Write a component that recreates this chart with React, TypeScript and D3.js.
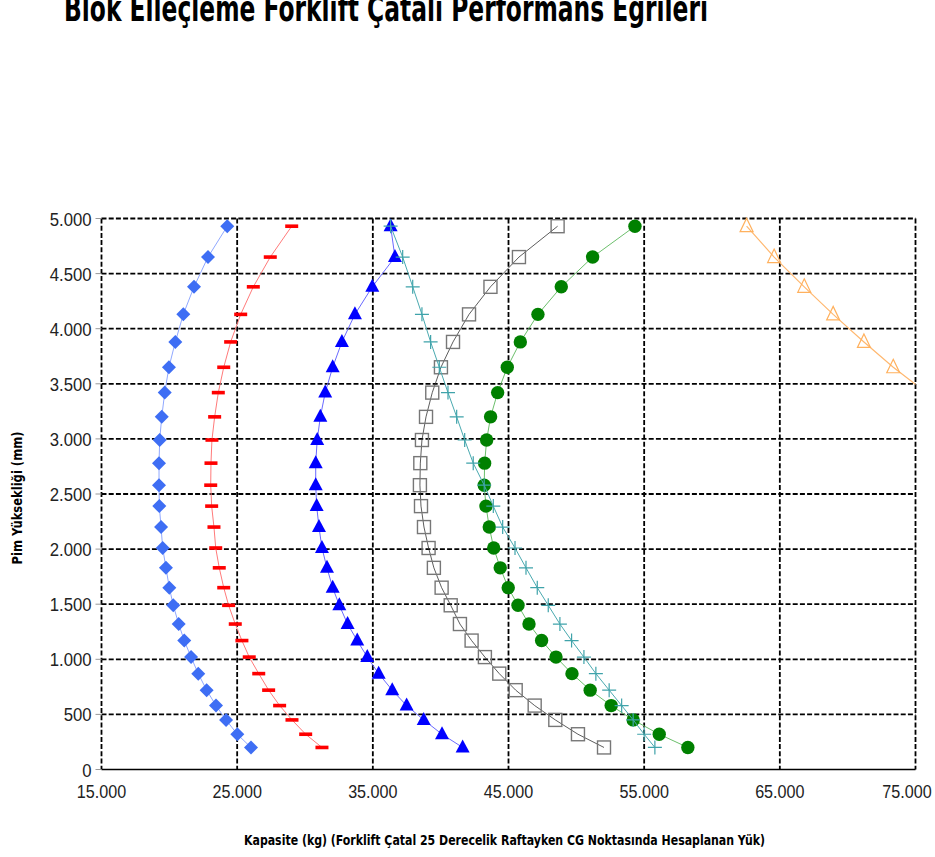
import React from "react";
import * as d3 from "d3";

const title = "Blok Elleçleme Forklift Çatalı Performans Eğrileri";
const xTitle = "Kapasite (kg) (Forklift Çatal 25 Derecelik Raftayken CG Noktasında Hesaplanan Yük)";
const yTitle = "Pim Yüksekliği (mm)";

const xTicks = [15000, 25000, 35000, 45000, 55000, 65000, 75000];
const yTicks = [0, 500, 1000, 1500, 2000, 2500, 3000, 3500, 4000, 4500, 5000];

const heights = [200, 320, 450, 580, 720, 870, 1020, 1170, 1320, 1490, 1650, 1830, 2010, 2200, 2390, 2580, 2780, 2990, 3200, 3420, 3650, 3880, 4130, 4380, 4650, 4930];

const diamondSeries = [26020, 25010, 24180, 23440, 22750, 22130, 21600, 21100, 20690, 20290, 20000, 19750, 19510, 19390, 19260, 19240, 19240, 19290, 19440, 19660, 19970, 20440, 21030, 21820, 22850, 24270];
const dashSeries = [31250, 30050, 29040, 28130, 27320, 26590, 25890, 25350, 24860, 24370, 24010, 23680, 23420, 23290, 23120, 23050, 23070, 23140, 23340, 23610, 24010, 24520, 25260, 26190, 27440, 29020];
const triangleSeries = [41620, 40100, 38750, 37490, 36430, 35430, 34590, 33850, 33140, 32530, 32040, 31620, 31250, 31030, 30860, 30790, 30790, 30900, 31130, 31490, 32040, 32720, 33680, 34960, 36630, 36310];
const squareSeries = [52040, 50120, 48450, 46930, 45530, 44320, 43260, 42280, 41420, 40740, 40070, 39500, 39110, 38770, 38550, 38470, 38500, 38620, 38920, 39380, 40020, 40910, 42090, 43670, 45770, 48620];
const circleSeries = [58220, 56110, 54190, 52570, 51020, 49680, 48500, 47440, 46510, 45700, 44980, 44390, 43910, 43580, 43340, 43210, 43240, 43390, 43680, 44200, 44910, 45870, 47170, 48890, 51200, 54320];
const crossSeries = [55790, 55000, 54190, 53340, 52420, 51440, 50560, 49650, 48790, 47930, 47120, 46290, 45480, 44570, 43880, 43210, 42400, 41770, 41180, 40540, 39900, 39260, 38620, 37940, 37200, 36310];
const openTriHeights = [3420, 3650, 3880, 4130, 4380, 4650, 4930];
const openTriSeries = [75800, 73360, 71200, 68930, 66800, 64580, 62550];

const fmt = (v: number) => d3.format(",")(v).replace(/,/g, ".");

const W = 935, H = 857;
const L = 101.5, R = 915.5, T = 218.5, B = 769.5;

type Marker = "diamond" | "dash" | "triangle" | "square" | "circle" | "cross" | "openTri";

const seriesList: { xs: number[]; ys: number[]; marker: Marker; color: string; line: string; lw: number }[] = [
  { xs: diamondSeries, ys: heights, marker: "diamond", color: "#3e6ef4", line: "#90a8ff", lw: 1 },
  { xs: dashSeries, ys: heights, marker: "dash", color: "#ff0000", line: "#ff7a7a", lw: 1 },
  { xs: triangleSeries, ys: heights, marker: "triangle", color: "#0000ff", line: "#6a6aff", lw: 1 },
  { xs: squareSeries, ys: heights, marker: "square", color: "#777777", line: "#333333", lw: 0.8 },
  { xs: circleSeries, ys: heights, marker: "circle", color: "#008000", line: "#6cbf6c", lw: 1 },
  { xs: crossSeries, ys: heights, marker: "cross", color: "#3fa3aa", line: "#4aaab0", lw: 1 },
  { xs: openTriSeries, ys: openTriHeights, marker: "openTri", color: "#ffb15e", line: "#ffb870", lw: 1.2 },
];

function MarkerShape({ m, x, y, c }: { m: Marker; x: number; y: number; c: string }) {
  switch (m) {
    case "diamond":
      return <path d={`M${x},${y - 7}L${x + 7},${y}L${x},${y + 7}L${x - 7},${y}Z`} fill={c} />;
    case "dash":
      return <rect x={x - 6.5} y={y - 1.8} width={13} height={3.6} fill={c} />;
    case "triangle":
      return <path d={`M${x},${y - 8}L${x + 7},${y + 5}L${x - 7},${y + 5}Z`} fill={c} />;
    case "square":
      return <rect x={x - 6.5} y={y - 6.5} width={13} height={13} fill="none" stroke={c} strokeWidth={1.4} />;
    case "circle":
      return <circle cx={x} cy={y} r={6.7} fill={c} />;
    case "cross":
      return <path d={`M${x - 7},${y}H${x + 7}M${x},${y - 7}V${y + 7}`} stroke={c} strokeWidth={1.2} fill="none" />;
    case "openTri":
      return <path d={`M${x},${y - 8}L${x + 6.5},${y + 5.5}L${x - 6.5},${y + 5.5}Z`} fill="none" stroke={c} strokeWidth={1.2} />;
  }
  return null;
}

export default function App() {
  const x = d3.scaleLinear().domain([15000, 75000]).range([L, R]);
  const y = d3.scaleLinear().domain([0, 5000]).range([B, T]);
  const line = d3.line<[number, number]>().x((d) => x(d[0])).y((d) => y(d[1]));
  const font = "'Liberation Sans', Arial, sans-serif";
  const condBold = "'Liberation Sans Narrow', 'DejaVu Sans Condensed', 'Roboto Condensed', 'Open Sans', sans-serif";
  const dash = "5,2.2";
  const labelHalf = 26;

  return (
    <svg width={W} height={H} style={{ position: "absolute", left: 0, top: 0, background: "#fff" }}>
      <rect x={0} y={0} width={W} height={H} fill="#fff" />
      <defs>
        <clipPath id="plot">
          <rect x={L} y={T - 10} width={R - L} height={B - T + 10} />
        </clipPath>
      </defs>
      <text x={64} y={21} fontFamily={condBold} fontWeight="bold" fontSize={35} textLength={644} lengthAdjust="spacingAndGlyphs" fill="#000">
        {title}
      </text>

      {/* gridlines */}
      {yTicks.filter((t) => t > 0).map((t) => (
        <line key={"h" + t} x1={L} x2={R} y1={y(t)} y2={y(t)} stroke="#000" strokeWidth={1.8} strokeDasharray={dash} />
      ))}
      {xTicks.map((t) => (
        <line key={"v" + t} x1={x(t)} x2={x(t)} y1={T} y2={B} stroke="#000" strokeWidth={1.8} strokeDasharray={dash} />
      ))}
      <line x1={L} x2={R} y1={B} y2={B} stroke="#000" strokeWidth={1.6} />

      {/* ticks */}
      {yTicks.map((t) => (
        <line key={"yt" + t} x1={L - 6} x2={L} y1={y(t)} y2={y(t)} stroke="#999" strokeWidth={1} />
      ))}
      {yTicks.map((t) => (
        <text key={"yl" + t} x={0} y={0} transform={`translate(${L - 10},${y(t) + 7}) scale(0.88,1)`} textAnchor="end" fontFamily={font} fontSize={19} fill="#222">
          {fmt(t)}
        </text>
      ))}
      {xTicks.map((t) => (
        <text key={"xl" + t} x={0} y={0} transform={`translate(${Math.min(x(t), W - 2 - labelHalf)},${798}) scale(0.85,1)`} textAnchor="middle" fontFamily={font} fontSize={19} fill="#222">
          {fmt(t)}
        </text>
      ))}

      {/* series */}
      <g clipPath="url(#plot)">
        {seriesList.map((s, i) => {
          const pts: [number, number][] = s.xs.map((v, j) => [v, s.ys[j]]);
          return (
            <g key={i}>
              <path d={line(pts) || ""} fill="none" stroke={s.line} strokeWidth={s.lw} />
              {pts.map((p, j) => (
                <MarkerShape key={j} m={s.marker} x={x(p[0])} y={y(p[1])} c={s.color} />
              ))}
            </g>
          );
        })}
      </g>

      <text x={0} y={0} transform={`translate(22,498) rotate(-90)`} textAnchor="middle" fontFamily={condBold} fontWeight="bold" fontSize={14} textLength={133} lengthAdjust="spacingAndGlyphs" fill="#000">
        {yTitle}
      </text>
      <text x={504.5} y={845} textAnchor="middle" fontFamily={condBold} fontWeight="bold" fontSize={14} textLength={521} lengthAdjust="spacingAndGlyphs" fill="#000">
        {xTitle}
      </text>
    </svg>
  );
}
